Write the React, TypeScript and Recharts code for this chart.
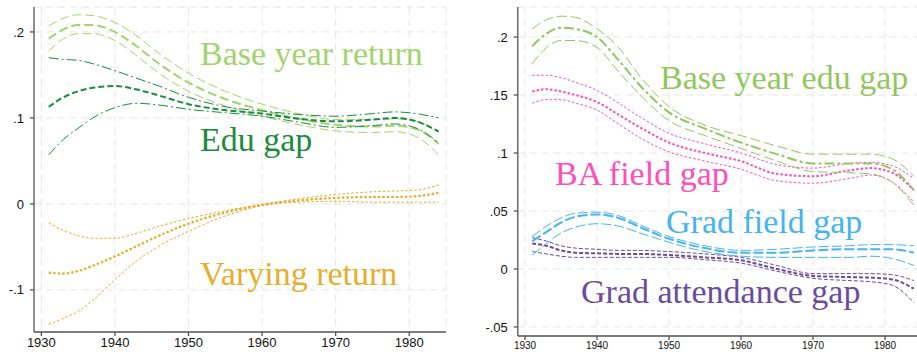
import React from 'react';
import { LineChart, Line, XAxis, YAxis, CartesianGrid } from 'recharts';

const years = [1931, 1933, 1935, 1937, 1940, 1943, 1946, 1950, 1955, 1960, 1965, 1970, 1975, 1978, 1981, 1984];
const xTicks = [1930, 1940, 1950, 1960, 1970, 1980];
const leftYTicks = [-0.1, 0, 0.1, 0.2];
const rightYTicks = [-0.05, 0, 0.05, 0.1, 0.15, 0.2];

// Left panel
const baseRetHi = [0.207, 0.216, 0.220, 0.219, 0.211, 0.195, 0.175, 0.152, 0.131, 0.116, 0.105, 0.098, 0.098, 0.099, 0.096, 0.085];
const baseRet = [0.192, 0.203, 0.208, 0.208, 0.200, 0.183, 0.163, 0.141, 0.122, 0.109, 0.099, 0.092, 0.090, 0.091, 0.087, 0.070];
const baseRetLo = [0.178, 0.192, 0.198, 0.198, 0.190, 0.172, 0.152, 0.131, 0.114, 0.102, 0.092, 0.085, 0.083, 0.084, 0.078, 0.057];

const eduGapHi = [0.170, 0.168, 0.167, 0.163, 0.155, 0.146, 0.137, 0.124, 0.113, 0.108, 0.104, 0.102, 0.105, 0.107, 0.105, 0.100];
const eduGap = [0.113, 0.124, 0.131, 0.135, 0.137, 0.133, 0.126, 0.116, 0.109, 0.105, 0.099, 0.096, 0.098, 0.100, 0.096, 0.084];
const eduGapLo = [0.057, 0.075, 0.088, 0.100, 0.112, 0.117, 0.115, 0.110, 0.106, 0.102, 0.095, 0.089, 0.091, 0.093, 0.088, 0.071];

const varyHi = [-0.022, -0.031, -0.037, -0.040, -0.040, -0.034, -0.026, -0.017, -0.008, -0.001, 0.006, 0.011, 0.014, 0.015, 0.016, 0.022];
const vary = [-0.080, -0.081, -0.078, -0.072, -0.061, -0.049, -0.037, -0.023, -0.010, -0.001, 0.004, 0.007, 0.008, 0.008, 0.009, 0.013];
const varyLo = [-0.140, -0.133, -0.125, -0.112, -0.088, -0.066, -0.049, -0.032, -0.014, -0.002, 0.002, 0.003, 0.002, 0.002, 0.002, 0.002];

// Right panel
const baseEduHi = [0.207, 0.215, 0.218, 0.217, 0.207, 0.191, 0.166, 0.140, 0.124, 0.115, 0.106, 0.099, 0.099, 0.099, 0.095, 0.080];
const baseEdu = [0.192, 0.203, 0.208, 0.207, 0.200, 0.180, 0.158, 0.135, 0.121, 0.109, 0.099, 0.091, 0.091, 0.091, 0.086, 0.068];
const baseEduLo = [0.177, 0.191, 0.197, 0.197, 0.191, 0.170, 0.150, 0.128, 0.115, 0.104, 0.093, 0.084, 0.083, 0.082, 0.075, 0.055];

const baFieldHi = [0.167, 0.167, 0.165, 0.161, 0.154, 0.143, 0.131, 0.117, 0.108, 0.100, 0.090, 0.087, 0.091, 0.092, 0.089, 0.078];
const baField = [0.153, 0.155, 0.153, 0.150, 0.144, 0.133, 0.122, 0.109, 0.100, 0.093, 0.082, 0.080, 0.085, 0.087, 0.083, 0.068];
const baFieldLo = [0.143, 0.146, 0.146, 0.143, 0.137, 0.125, 0.113, 0.101, 0.093, 0.086, 0.076, 0.074, 0.078, 0.081, 0.075, 0.058];

const gradFieldHi = [0.028, 0.037, 0.044, 0.048, 0.049, 0.046, 0.038, 0.028, 0.020, 0.016, 0.017, 0.019, 0.020, 0.021, 0.021, 0.020];
const gradField = [0.024, 0.032, 0.040, 0.045, 0.047, 0.044, 0.036, 0.026, 0.018, 0.014, 0.014, 0.016, 0.017, 0.017, 0.017, 0.014];
const gradFieldLo = [0.012, 0.022, 0.031, 0.036, 0.039, 0.037, 0.031, 0.023, 0.015, 0.011, 0.010, 0.010, 0.010, 0.011, 0.009, 0.003];

const gradAttHi = [0.027, 0.024, 0.020, 0.018, 0.017, 0.016, 0.016, 0.015, 0.013, 0.010, 0.003, -0.004, -0.004, -0.004, -0.005, -0.010];
const gradAtt = [0.022, 0.020, 0.016, 0.014, 0.0135, 0.013, 0.013, 0.012, 0.010, 0.0075, 0.000, -0.006, -0.007, -0.0075, -0.009, -0.017];
const gradAttLo = [0.015, 0.013, 0.011, 0.010, 0.010, 0.010, 0.010, 0.010, 0.008, 0.005, -0.002, -0.008, -0.010, -0.011, -0.014, -0.029];

const C = {
  baseRet: '#a3d36d',
  edu: '#1a8c3e',
  vary: '#e5ae2c',
  baseEdu: '#92c760',
  ba: '#ff4dbb',
  gradField: '#45b4ef',
  gradAtt: '#6a4c9e',
};

const leftData = years.map((y, i) => ({
  year: y,
  baseRetHi: baseRetHi[i], baseRet: baseRet[i], baseRetLo: baseRetLo[i],
  eduGapHi: eduGapHi[i], eduGap: eduGap[i], eduGapLo: eduGapLo[i],
  varyHi: varyHi[i], vary: vary[i], varyLo: varyLo[i],
}));

const rightData = years.map((y, i) => ({
  year: y,
  baseEduHi: baseEduHi[i], baseEdu: baseEdu[i], baseEduLo: baseEduLo[i],
  baFieldHi: baFieldHi[i], baField: baField[i], baFieldLo: baFieldLo[i],
  gradFieldHi: gradFieldHi[i], gradField: gradField[i], gradFieldLo: gradFieldLo[i],
  gradAttHi: gradAttHi[i], gradAtt: gradAtt[i], gradAttLo: gradAttLo[i],
}));

const fmt = (v: number) => (v === 0 ? '0' : String(v).replace('0.', '.'));

const axisStroke = '#555';
const tickFont = { fontFamily: 'Liberation Sans', fontSize: 13, fill: '#111' };

function L(key: string, color: string, width: number, dash: string) {
  return (
    <Line
      key={key}
      dataKey={key}
      type="monotone"
      stroke={color}
      strokeWidth={width}
      strokeDasharray={dash}
      dot={false}
      activeDot={false}
      isAnimationActive={false}
    />
  );
}

function Note({ x, y, color, children }: { x: number; y: number; color: string; children: string }) {
  return (
    <text x={x} y={y} fill={color} fontSize={34} style={{ fontFamily: 'Liberation Serif' }}>
      {children}
    </text>
  );
}

export default function App() {
  return (
    <div style={{ position: 'absolute', left: 0, top: 0, width: 917, height: 355, overflow: 'hidden', background: '#fff' }}>
      <div style={{ position: 'absolute', left: 0, top: 0 }}>
        <LineChart width={460} height={355} data={leftData} margin={{ top: 7, right: 14, bottom: 0, left: 0 }}>
          <CartesianGrid stroke="#e6e6e6" strokeDasharray="7 5" />
          <XAxis
            dataKey="year"
            type="number"
            domain={[1929, 1985]}
            ticks={xTicks}
            height={23}
            allowDataOverflow
            stroke={axisStroke}
            strokeWidth={1.3}
            tickSize={4}
            tickMargin={2}
            tick={tickFont}
          />
          <YAxis
            type="number"
            domain={[-0.149, 0.229]}
            ticks={leftYTicks}
            width={34}
            allowDataOverflow
            stroke={axisStroke}
            strokeWidth={1.3}
            tickSize={4}
            tickMargin={6}
            tickFormatter={fmt}
            tick={tickFont}
          />
          {L('varyHi', C.vary, 1, '2.5 2')}
          {L('varyLo', C.vary, 1, '2.5 2')}
          {L('vary', C.vary, 2.2, '2.5 2')}
          {L('baseRetHi', C.baseRet, 1, '9 4')}
          {L('baseRetLo', C.baseRet, 1, '9 4')}
          {L('baseRet', C.baseRet, 2, '9 4')}
          {L('eduGapHi', C.edu, 1, '10 3 2 3')}
          {L('eduGapLo', C.edu, 1, '10 3 2 3')}
          {L('eduGap', C.edu, 2, '6 3')}
        </LineChart>
      </div>
      <div style={{ position: 'absolute', left: 460, top: 0 }}>
        <LineChart width={470} height={355} data={rightData} margin={{ top: 7, right: 9, bottom: 0, left: 0 }}>
          <CartesianGrid stroke="#e6e6e6" strokeDasharray="7 5" />
          <XAxis
            dataKey="year"
            type="number"
            domain={[1929, 1985]}
            ticks={xTicks}
            height={19}
            allowDataOverflow
            stroke={axisStroke}
            strokeWidth={1.3}
            tickSize={4}
            tickMargin={2}
            tick={{ ...tickFont, fontSize: 10 }}
          />
          <YAxis
            type="number"
            domain={[-0.0578, 0.2259]}
            ticks={rightYTicks}
            width={57.8}
            allowDataOverflow
            stroke={axisStroke}
            strokeWidth={1.3}
            tickSize={4}
            tickMargin={6}
            tickFormatter={fmt}
            tick={tickFont}
          />
          {L('gradAttHi', C.gradAtt, 1, '4 2')}
          {L('gradAttLo', C.gradAtt, 1, '4 2')}
          {L('gradAtt', C.gradAtt, 2, '4 2')}
          {L('gradFieldHi', C.gradField, 1, '10 3')}
          {L('gradFieldLo', C.gradField, 1, '10 3')}
          {L('gradField', C.gradField, 2, '10 3')}
          {L('baFieldHi', C.ba, 1, '2.5 2')}
          {L('baFieldLo', C.ba, 1, '2.5 2')}
          {L('baField', C.ba, 2, '2.5 2')}
          {L('baseEduHi', C.baseEdu, 1, '10 4')}
          {L('baseEduLo', C.baseEdu, 1, '10 4')}
          {L('baseEdu', C.baseEdu, 2, '10 3 3 3')}
        </LineChart>
      </div>
      <svg width={917} height={355} style={{ position: 'absolute', left: 0, top: 0, pointerEvents: 'none' }}>
        <Note x={200} y={65} color={C.baseRet}>Base year return</Note>
        <Note x={200} y={151} color={C.edu}>Edu gap</Note>
        <Note x={200} y={285} color={C.vary}>Varying return</Note>
        <Note x={660} y={89} color={C.baseEdu}>Base year edu gap</Note>
        <Note x={555} y={185} color={C.ba}>BA field gap</Note>
        <Note x={666} y={233} color={C.gradField}>Grad field gap</Note>
        <Note x={581} y={303} color={C.gradAtt}>Grad attendance gap</Note>
      </svg>
    </div>
  );
}
